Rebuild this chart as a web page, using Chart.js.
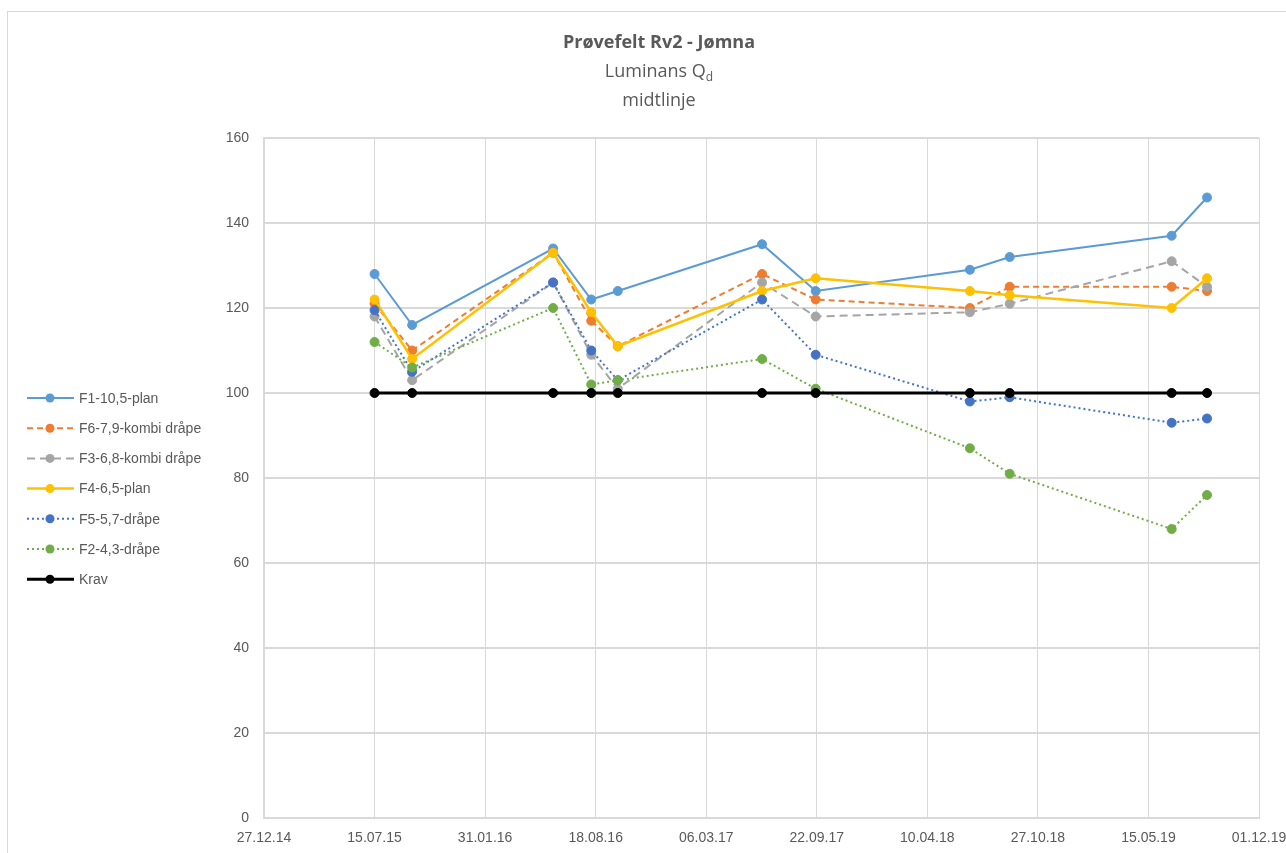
<!DOCTYPE html>
<html>
<head>
<meta charset="utf-8">
<script src="https://cdn.jsdelivr.net/npm/chart.js@4.4.1/dist/chart.umd.min.js"></script>
<style>
  html, body { margin: 0; padding: 0; background: #fff; }
  #wrap { width: 1286px; height: 853px; }
</style>
</head>
<body>
<div id="wrap"><canvas id="chart" width="1286" height="853"></canvas></div>
<script>
// x axis runs from 27.12.14 to 01.12.19 in steps of 200 days (like Excel)
const axisStart = '27.12.14';
const axisEnd = '01.12.19';
const tickStepDays = 200;

const measureDates = ['15.07.15', '21.09.15', '02.06.16', '10.08.16', '27.09.16',
    '15.06.17', '20.09.17', '26.06.18', '06.09.18', '26.06.19', '29.08.19'];

const f1 = [128, 116, 134, 122, 124, 135, 124, 129, 132, 137, 146];
const f6 = [121, 110, 133, 117, 111, 128, 122, 120, 125, 125, 124];
const f3 = [118, 103, 126, 109, 101, 126, 118, 119, 121, 131, 125];
const f4 = [122, 108, 133, 119, 111, 124, 127, 124, 123, 120, 127];
const f5 = [119.5, 105, 126, 110, 103, 122, 109, 98, 99, 93, 94];
const f2 = [112, 106, 120, 102, 103, 108, 101, 87, 81, 68, 76];
const krav = [100, 100, 100, 100, 100, 100, 100, 100, 100, 100, 100];

const seriesNames = ['F1-10,5-plan', 'F6-7,9-kombi dråpe', 'F3-6,8-kombi dråpe',
    'F4-6,5-plan', 'F5-5,7-dråpe', 'F2-4,3-dråpe', 'Krav'];

const titleLines = ['Prøvefelt Rv2 - Jømna', 'Luminans Q', 'midtlinje'];
const titleSub = 'd';

const DAY = 86400000;
function parseDate(s) {
    const p = s.split('.').map(Number);
    return Date.UTC(2000 + p[2], p[1] - 1, p[0]);
}
const t0 = parseDate(axisStart);
function dayOffset(s) {
    return Math.round((parseDate(s) - t0) / DAY);
}
function formatDay(n) {
    const d = new Date(t0 + n * DAY);
    const pad = v => String(v).padStart(2, '0');
    return pad(d.getUTCDate()) + '.' + pad(d.getUTCMonth() + 1) + '.' + pad(d.getUTCFullYear() % 100);
}
function pts(values) {
    return values.map((v, i) => ({ x: dayOffset(measureDates[i]), y: v }));
}

const textColor = '#595959';
const gridColor = '#d9d9d9';

function series(i, values, color, width, dash) {
    return {
        label: seriesNames[i],
        data: pts(values),
        borderColor: color,
        backgroundColor: color,
        borderWidth: width,
        borderDash: dash,
        pointRadius: 4.5,
        pointHoverRadius: 4.5,
        pointBorderWidth: 1,
        tension: 0,
        order: 10 - i   // later series on top, like Excel
    };
}

const datasets = [
    series(0, f1, '#5b9bd5', 2, []),
    series(1, f6, '#ed7d31', 2, [6, 4]),
    series(2, f3, '#a5a5a5', 2, [8, 5]),
    series(3, f4, '#ffc000', 2.5, []),
    series(4, f5, '#4472c4', 2, [2, 3]),
    series(5, f2, '#70ad47', 2, [2, 3]),
    series(6, krav, '#000000', 3, [])
];

// legend drawn by hand so it shows line + marker like Excel
const sideLegend = {
    id: 'sideLegend',
    afterDraw(chart) {
        const ctx = chart.ctx;
        ctx.save();
        chart.data.datasets.forEach((ds, i) => {
            const y = 398 + i * 30.2;
            ctx.strokeStyle = ds.borderColor;
            ctx.lineWidth = ds.borderWidth;
            ctx.setLineDash(ds.borderDash);
            ctx.beginPath();
            ctx.moveTo(27, y);
            ctx.lineTo(74, y);
            ctx.stroke();
            ctx.setLineDash([]);
            ctx.fillStyle = ds.borderColor;
            ctx.beginPath();
            ctx.arc(50, y, 4.5, 0, Math.PI * 2);
            ctx.fill();
            ctx.fillStyle = textColor;
            ctx.font = '14px "Liberation Sans", Arial, sans-serif';
            ctx.textBaseline = 'middle';
            ctx.textAlign = 'left';
            ctx.fillText(ds.label, 79, y + 1);
        });
        ctx.restore();
    }
};

const titleAndFrame = {
    id: 'titleAndFrame',
    beforeDraw(chart) {
        const ctx = chart.ctx;
        ctx.save();
        ctx.strokeStyle = gridColor;
        ctx.lineWidth = 1;
        ctx.strokeRect(7.5, 11.5, 1300, 900);
        ctx.restore();
    },
    afterDraw(chart) {
        const ctx = chart.ctx;
        const cx = 659;
        ctx.save();
        ctx.fillStyle = textColor;
        ctx.textBaseline = 'middle';
        ctx.textAlign = 'center';
        ctx.font = 'bold 18px "Open Sans", sans-serif';
        ctx.fillText(titleLines[0], cx, 43);
        ctx.font = '18px "Open Sans", sans-serif';
        const w = ctx.measureText(titleLines[1]).width;
        ctx.font = '12px "Open Sans", sans-serif';
        const ws = ctx.measureText(titleSub).width;
        const left = cx - (w + ws) / 2;
        ctx.textAlign = 'left';
        ctx.font = '18px "Open Sans", sans-serif';
        ctx.fillText(titleLines[1], left, 72);
        ctx.font = '12px "Open Sans", sans-serif';
        ctx.fillText(titleSub, left + w, 78);
        ctx.textAlign = 'center';
        ctx.font = '18px "Open Sans", sans-serif';
        ctx.fillText(titleLines[2], cx, 101);
        ctx.restore();
    }
};

new Chart(document.getElementById('chart'), {
    type: 'line',
    data: { datasets: datasets },
    plugins: [titleAndFrame, sideLegend],
    options: {
        responsive: false,
        animation: false,
        layout: { padding: { left: 190, top: 138, right: 27, bottom: 0 } },
        plugins: {
            legend: { display: false },
            title: { display: false },
            tooltip: { enabled: false }
        },
        scales: {
            x: {
                type: 'linear',
                min: 0,
                max: dayOffset(axisEnd),
                afterFit: s => { s.height = 35; s.paddingRight = 0; s.paddingLeft = 0; },
                ticks: {
                    stepSize: tickStepDays,
                    callback: v => formatDay(v),
                    color: textColor,
                    font: { family: '"Liberation Sans", Arial, sans-serif', size: 14 },
                    padding: 12,
                    maxRotation: 0,
                    autoSkip: false
                },
                grid: { color: gridColor, lineWidth: 1, drawTicks: false },
                border: { color: gridColor, width: 1 }
            },
            y: {
                min: 0,
                max: 160,
                afterFit: s => { s.width = 74; },
                ticks: {
                    stepSize: 20,
                    color: textColor,
                    font: { family: '"Liberation Sans", Arial, sans-serif', size: 14 },
                    padding: 15
                },
                grid: { color: gridColor, lineWidth: 2, drawTicks: false },
                border: { color: gridColor, width: 2 }
            }
        }
    }
});
</script>
</body>
</html>
